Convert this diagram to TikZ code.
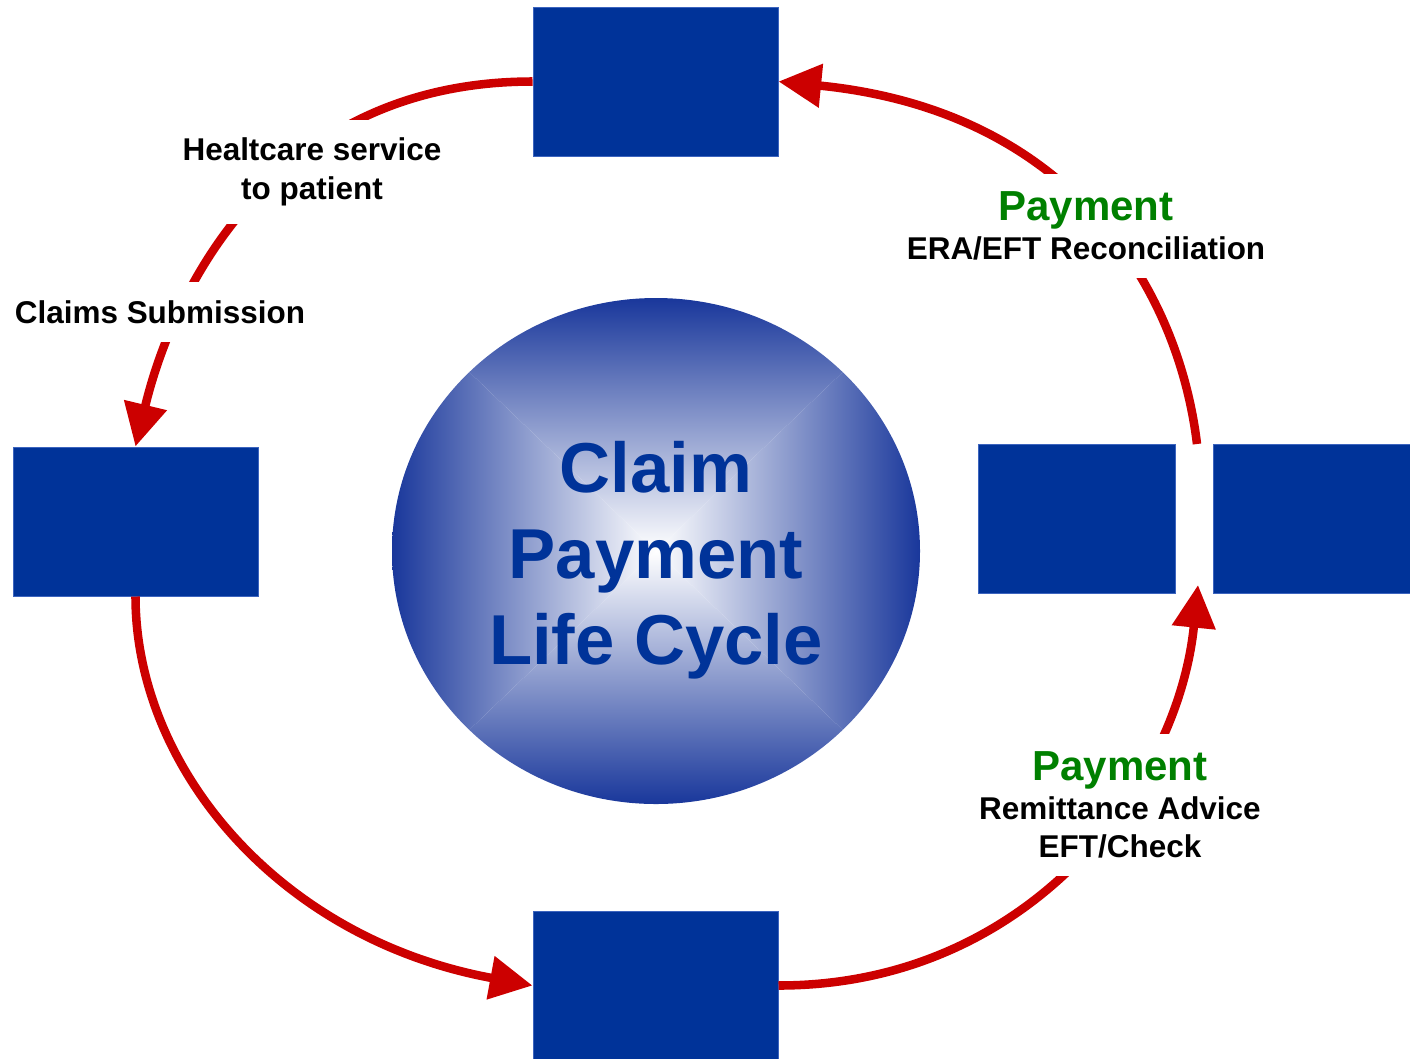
\documentclass[tikz,border=0pt]{standalone}
\usepackage{fontspec}
\setmainfont{Liberation Sans}
\usetikzlibrary{arrows.meta}

\definecolor{boxblue}{RGB}{0,51,153}
\definecolor{boxedge}{RGB}{60,100,190}
\definecolor{hubedge}{RGB}{25,55,155}
\definecolor{hubmid}{RGB}{160,165,205}
\definecolor{arcred}{RGB}{204,0,0}
\definecolor{paygreen}{RGB}{0,128,0}

\newcommand{\paytxt}{{\fontsize{31.5}{29}\selectfont\color{paygreen}Payment}}

\tikzset{every picture/.style={line width=0.75pt}}
\tikzset{
  stage/.style={rectangle, fill=boxblue, draw=boxedge, line width=0.75pt, inner sep=0pt,
    minimum width=183.75pt, minimum height=111.75pt},
  narrowstage/.style={stage, minimum width=147.75pt},
  flow/.style={draw=arcred, line width=6.4pt, -{Triangle[length=32pt,width=31.5pt]}},
  lbl/.style={fill=white, align=center, inner xsep=3pt, inner ysep=13.5pt,
    font=\bfseries\fontsize{23.6}{29}\selectfont}
}

\begin{document}
\begin{tikzpicture}[x=0.75pt,y=0.75pt,yscale=-1,xscale=1]
\useasboundingbox (0,0) rectangle (1410,1058);

%Shape: Ellipse (shaded hub)
\begin{scope}
\clip (656,551) ellipse (264 and 253);
\shade[top color=hubedge, middle color=hubmid, bottom color=white] (392,298) -- (920,298) -- (656,551) -- cycle;
\shade[top color=white, middle color=hubmid, bottom color=hubedge] (392,804) -- (920,804) -- (656,551) -- cycle;
\shade[left color=hubedge, middle color=hubmid, right color=white] (392,298) -- (392,804) -- (656,551) -- cycle;
\shade[left color=white, middle color=hubmid, right color=hubedge] (920,298) -- (920,804) -- (656,551) -- cycle;
\end{scope}

% Text Node
\node[text=boxblue, align=center, inner sep=0pt, font=\bfseries\fontsize{53}{64.5}\selectfont] (hub) at (656,560) {Claim\\Payment\\Life Cycle};

%Shape: Rectangles
\node[stage] (topbox) at (655.5,81.5) {};
\node[stage] (leftbox) at (135.5,521.5) {};
\node[stage] (botbox) at (655.5,985.5) {};
\node[narrowstage] (rbox) at (1076.5,518.5) {};
\node[narrowstage] (farbox) at (1311.5,518.5) {};
\coordinate (gapN) at (1197,444);
\coordinate (gapS) at (1198,585);

%Curve Lines
\draw[flow] (topbox.west) .. controls +(-258,0) and +(38,-158) .. (leftbox.north);
\draw[flow] (leftbox.south) .. controls +(0,170) and +(-255,-47) .. (botbox.west);
\draw[flow] (botbox.east) .. controls +(250,0) and +(-20,200) .. (gapS);
\draw[flow] (gapN) .. controls +(-19,-157) and +(292,29) .. (topbox.east);

% Text Node
\node[lbl] (svc) at (312,172) {Healtcare service\\to patient};
% Text Node
\node[lbl] (subm) at (160,312) {Claims Submission};
% Text Node
\node[lbl] (recon) at (1086,226) {\paytxt\\ERA/EFT Reconciliation};
% Text Node
\node[lbl] (advice) at (1120,805) {\paytxt\\Remittance Advice\\EFT/Check};

\end{tikzpicture}
\end{document}
